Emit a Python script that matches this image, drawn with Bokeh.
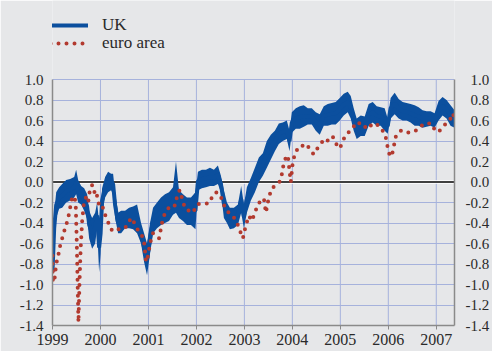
import numpy as np
from bokeh.plotting import figure
from bokeh.models import (Range1d, LinearAxis, FixedTicker, Span, Legend, LegendItem,
                          PrintfTickFormatter, CustomJSTickFormatter)
from bokeh.embed import file_html
from bokeh.resources import INLINE

# ---- data ----
uk_dates = [1999.000, 1999.035, 1999.077, 1999.139, 1999.202, 1999.285, 1999.368, 1999.452, 1999.493,
            1999.535, 1999.597, 1999.660, 1999.722, 1999.764, 1999.826, 1999.889, 1999.930, 1999.972,
            2000.003, 2000.034, 2000.097, 2000.159, 2000.222, 2000.263, 2000.305, 2000.367, 2000.430,
            2000.513, 2000.596, 2000.680, 2000.763, 2000.846, 2000.909, 2000.971, 2001.033, 2001.096,
            2001.179, 2001.262, 2001.345, 2001.429, 2001.512, 2001.574, 2001.637, 2001.720, 2001.803,
            2001.886, 2001.980, 2002.032, 2002.115, 2002.199, 2002.282, 2002.365, 2002.448, 2002.511,
            2002.573, 2002.636, 2002.698, 2002.781, 2002.865, 2002.933, 2002.990, 2003.052, 2003.135,
            2003.219, 2003.302, 2003.385, 2003.468, 2003.551, 2003.635, 2003.718, 2003.801, 2003.884,
            2003.941, 2003.989, 2004.072, 2004.155, 2004.238, 2004.322, 2004.405, 2004.488, 2004.571,
            2004.655, 2004.738, 2004.821, 2004.904, 2004.988, 2005.071, 2005.154, 2005.217, 2005.279,
            2005.341, 2005.425, 2005.508, 2005.591, 2005.675, 2005.758, 2005.841, 2005.924, 2005.987,
            2006.049, 2006.133, 2006.216, 2006.299, 2006.382, 2006.465, 2006.549, 2006.632, 2006.715,
            2006.798, 2006.881, 2006.965, 2007.048, 2007.131, 2007.214, 2007.298, 2007.381]
uk_low = [-1.00, -0.60, -0.35, -0.26, -0.25, -0.20, -0.18, -0.15, -0.12,
          -0.20, -0.22, -0.28, -0.36, -0.55, -0.65, -0.60, -0.45, -0.88,
          -0.70, -0.30, -0.15, -0.10, -0.08, -0.12, -0.35, -0.50, -0.50,
          -0.45, -0.45, -0.46, -0.50, -0.60, -0.78, -0.91, -0.70, -0.50,
          -0.45, -0.42, -0.40, -0.38, -0.32, -0.30, -0.35, -0.38, -0.42,
          -0.42, -0.46, -0.08, -0.06, -0.05, -0.04, -0.04, -0.02, -0.10,
          -0.35, -0.40, -0.46, -0.45, -0.42, -0.30, -0.45, -0.30, -0.18,
          -0.10, 0.00, 0.06, 0.14, 0.22, 0.30, 0.37, 0.40, 0.42,
          0.30, 0.48, 0.52, 0.52, 0.54, 0.56, 0.56, 0.50, 0.46,
          0.55, 0.55, 0.56, 0.56, 0.60, 0.65, 0.68, 0.62, 0.50,
          0.42, 0.45, 0.45, 0.55, 0.58, 0.55, 0.55, 0.50, 0.47,
          0.62, 0.66, 0.62, 0.60, 0.60, 0.58, 0.55, 0.55, 0.53,
          0.54, 0.55, 0.53, 0.60, 0.65, 0.62, 0.55, 0.53]
uk_high = [-0.75, -0.30, -0.10, -0.05, -0.02, 0.02, 0.03, 0.05, 0.12,
           0.02, -0.04, -0.06, -0.12, -0.28, -0.35, -0.30, -0.20, -0.40,
           -0.30, -0.06, 0.05, 0.10, 0.08, 0.08, -0.10, -0.30, -0.28,
           -0.28, -0.25, -0.24, -0.22, -0.40, -0.50, -0.60, -0.40, -0.25,
           -0.20, -0.15, -0.12, -0.10, -0.05, 0.20, -0.08, -0.12, -0.15,
           -0.15, -0.10, 0.10, 0.12, 0.12, 0.14, 0.12, 0.16, 0.06,
           -0.08, -0.20, -0.25, -0.25, -0.22, -0.04, -0.22, -0.05, 0.04,
           0.14, 0.24, 0.28, 0.40, 0.46, 0.50, 0.57, 0.58, 0.60,
           0.50, 0.68, 0.72, 0.74, 0.75, 0.72, 0.72, 0.68, 0.66,
           0.74, 0.76, 0.77, 0.78, 0.82, 0.86, 0.88, 0.84, 0.72,
           0.62, 0.65, 0.64, 0.76, 0.78, 0.74, 0.73, 0.72, 0.62,
           0.82, 0.87, 0.81, 0.78, 0.77, 0.76, 0.75, 0.73, 0.70,
           0.69, 0.69, 0.67, 0.79, 0.83, 0.80, 0.75, 0.70]

euro_dates = [1999.000, 1999.004, 1999.035, 1999.077, 1999.119, 1999.160, 1999.202, 1999.244, 1999.285,
              1999.327, 1999.368, 1999.410, 1999.452, 1999.483, 1999.504, 1999.524, 1999.541, 1999.562,
              1999.587, 1999.618, 1999.660, 1999.701, 1999.743, 1999.785, 1999.826, 1999.868, 1999.909,
              1999.951, 1999.993, 2000.034, 2000.076, 2000.138, 2000.201, 2000.263, 2000.346, 2000.430,
              2000.513, 2000.596, 2000.659, 2000.721, 2000.784, 2000.846, 2000.909, 2000.950, 2000.992,
              2001.033, 2001.096, 2001.158, 2001.221, 2001.283, 2001.345, 2001.408, 2001.491, 2001.554,
              2001.616, 2001.658, 2001.720, 2001.783, 2001.845, 2001.928, 2002.012, 2002.095, 2002.178,
              2002.262, 2002.324, 2002.407, 2002.490, 2002.553, 2002.615, 2002.678, 2002.740, 2002.803,
              2002.865, 2002.927, 2002.969, 2003.031, 2003.094, 2003.156, 2003.219, 2003.281, 2003.344,
              2003.406, 2003.448, 2003.510, 2003.573, 2003.635, 2003.698, 2003.760, 2003.812, 2003.864,
              2003.906, 2003.937, 2003.968, 2004.010, 2004.072, 2004.135, 2004.197, 2004.260, 2004.322,
              2004.384, 2004.447, 2004.509, 2004.571, 2004.634, 2004.696, 2004.759, 2004.821, 2004.884,
              2004.946, 2005.009, 2005.071, 2005.133, 2005.196, 2005.258, 2005.321, 2005.383, 2005.446,
              2005.508, 2005.571, 2005.633, 2005.696, 2005.758, 2005.820, 2005.883, 2005.945, 2005.987,
              2006.029, 2006.070, 2006.112, 2006.154, 2006.195, 2006.258, 2006.320, 2006.404, 2006.487,
              2006.570, 2006.654, 2006.737, 2006.820, 2006.903, 2006.987, 2007.070, 2007.154, 2007.237,
              2007.299, 2007.341, 2007.381]
euro_values = [-0.72, -0.95, -0.98, -0.80, -0.72, -0.62, -0.55, -0.48, -0.42,
               -0.35, -0.25, -0.15, -0.14, -0.20, -0.55, -1.00, -1.37, -1.00,
               -0.65, -0.38, -0.18, -0.15, -0.20, -0.06, -0.03, -0.10, -0.08,
               -0.20, -0.23, -0.22, -0.30, -0.36, -0.45, -0.48, -0.46, -0.46,
               -0.45, -0.38, -0.35, -0.42, -0.47, -0.50, -0.58, -0.78, -0.72,
               -0.60, -0.50, -0.52, -0.55, -0.40, -0.30, -0.26, -0.22, -0.23,
               -0.10, -0.08, -0.20, -0.27, -0.28, -0.30, -0.22, -0.21, -0.21,
               -0.21, -0.15, -0.10, -0.12, -0.20, -0.27, -0.30, -0.32, -0.36,
               -0.42, -0.50, -0.55, -0.42, -0.33, -0.38, -0.30, -0.22, -0.18,
               -0.16, -0.30, -0.15, -0.06, -0.04, -0.02, 0.02, 0.16, 0.24,
               0.26, 0.12, 0.00, 0.20, 0.30, 0.33, 0.36, 0.33, 0.35,
               0.30, 0.27, 0.32, 0.36, 0.40, 0.38, 0.42, 0.45, 0.42,
               0.33, 0.35, 0.42, 0.46, 0.50, 0.52, 0.58, 0.58, 0.55,
               0.53, 0.57, 0.55, 0.57, 0.57, 0.52, 0.50, 0.44, 0.34,
               0.26, 0.25, 0.34, 0.44, 0.46, 0.50, 0.50, 0.48, 0.50,
               0.50, 0.53, 0.57, 0.57, 0.57, 0.49, 0.50, 0.55, 0.58,
               0.62, 0.67, 0.62]

year_ticks = [1999, 2000, 2001, 2002, 2003, 2004, 2005, 2006, 2007]
value_ticks = [-1.4, -1.2, -1.0, -0.8, -0.6, -0.4, -0.2, 0.0, 0.2, 0.4, 0.6, 0.8, 1.0]
series_names = ["UK", "euro area"]

# ---- styling ----
BG = "#e6e7e9"
BLUE = "#0b4f9e"
RED = "#b23a2f"
GRID = "#a6b2dc"
AXIS = "#8a8a8a"
TEXT = "#2a2a2a"
FONT = "'Liberation Serif', 'Times New Roman', serif"
AXIS_FONT = "serif"

# the frame spans the whole height; the plotted area (-1.4 .. 1.0) occupies its lower part,
# the legend sits in the free space above it
Y_TOP = 1.0 + 79 / 102.5
p = figure(width=492, height=351, output_backend="svg", toolbar_location=None,
           x_range=Range1d(1999.0, 2007.38), y_range=Range1d(-1.4, Y_TOP),
           min_border_left=52, min_border_right=37, min_border_top=0, min_border_bottom=26,
           background_fill_color=BG, border_fill_color=BG, outline_line_color=None)

p.xgrid.visible = False
p.ygrid.ticker = FixedTicker(ticks=value_ticks)
p.ygrid.grid_line_color = GRID
p.ygrid.grid_line_width = 1
# vertical grid lines limited to the value span
p.segment(x0=year_ticks, x1=year_ticks,
          y0=[value_ticks[0]] * len(year_ticks), y1=[value_ticks[-1]] * len(year_ticks),
          line_color=GRID, line_width=1, level="underlay")


def style_axis(ax, size, standoff):
    ax.axis_line_color = AXIS
    ax.axis_line_width = 1.5
    ax.minor_tick_line_color = None
    ax.major_label_standoff = standoff
    ax.major_label_text_font = AXIS_FONT
    ax.major_label_text_font_size = size
    ax.major_label_text_color = TEXT


# x axis
xa = p.xaxis[0]
xa.ticker = FixedTicker(ticks=year_ticks)
xa.formatter = PrintfTickFormatter(format="%d")
style_axis(xa, "16px", 4)
xa.major_tick_line_color = AXIS
xa.major_tick_in = 0
xa.major_tick_out = 4

# left y axis
ya = p.yaxis[0]
ya.ticker = FixedTicker(ticks=value_ticks)
ya.bounds = (value_ticks[0], value_ticks[-1])
ya.formatter = PrintfTickFormatter(format="%.1f")
style_axis(ya, "15px", 9)
ya.major_tick_line_color = None
ya.major_tick_in = 0
ya.major_tick_out = 0

# right y axis (labels visually right-aligned via a 1/3-em space for non-negative values)
ra = LinearAxis(ticker=FixedTicker(ticks=value_ticks), bounds=(value_ticks[0], value_ticks[-1]))
ra.formatter = CustomJSTickFormatter(code="return (tick < -1e-9 ? '' : '\\u2004') + tick.toFixed(1);")
style_axis(ra, "15px", 11)
ra.major_tick_line_color = None
ra.major_tick_in = 0
ra.major_tick_out = 0
p.add_layout(ra, "right")

# zero line
p.add_layout(Span(location=0, dimension="width", line_color="white", line_width=3.5, level="underlay"))
p.add_layout(Span(location=0, dimension="width", line_color="black", line_width=1.5, level="underlay"))

# UK band + centre line
uk_mid = [(a + b) / 2 for a, b in zip(uk_low, uk_high)]
p.varea(x=uk_dates, y1=uk_low, y2=uk_high, fill_color=BLUE, fill_alpha=1.0)
uk_line = p.line(uk_dates, uk_mid, line_color=BLUE, line_width=4)

# euro area dotted line
euro_line = p.line(euro_dates, euro_values, line_color=RED, line_width=4,
                   line_dash="0 8", line_cap="round")

legend_style = dict(orientation="vertical", background_fill_alpha=0, border_line_color=None,
                    label_text_font=FONT, label_text_font_size="17px", label_text_color=TEXT,
                    glyph_width=38, glyph_height=24, label_height=24, label_standoff=14,
                    spacing=0, padding=0, margin=0)
leg_uk = Legend(items=[LegendItem(label=series_names[0], renderers=[uk_line])],
                location=(-2, 288), **legend_style)
leg_euro = Legend(items=[LegendItem(label=series_names[1], renderers=[euro_line])],
                  location=(-2, 270), **legend_style)
p.add_layout(leg_uk)
p.add_layout(leg_euro)

open("out.html", "w").write(file_html(p, INLINE))
